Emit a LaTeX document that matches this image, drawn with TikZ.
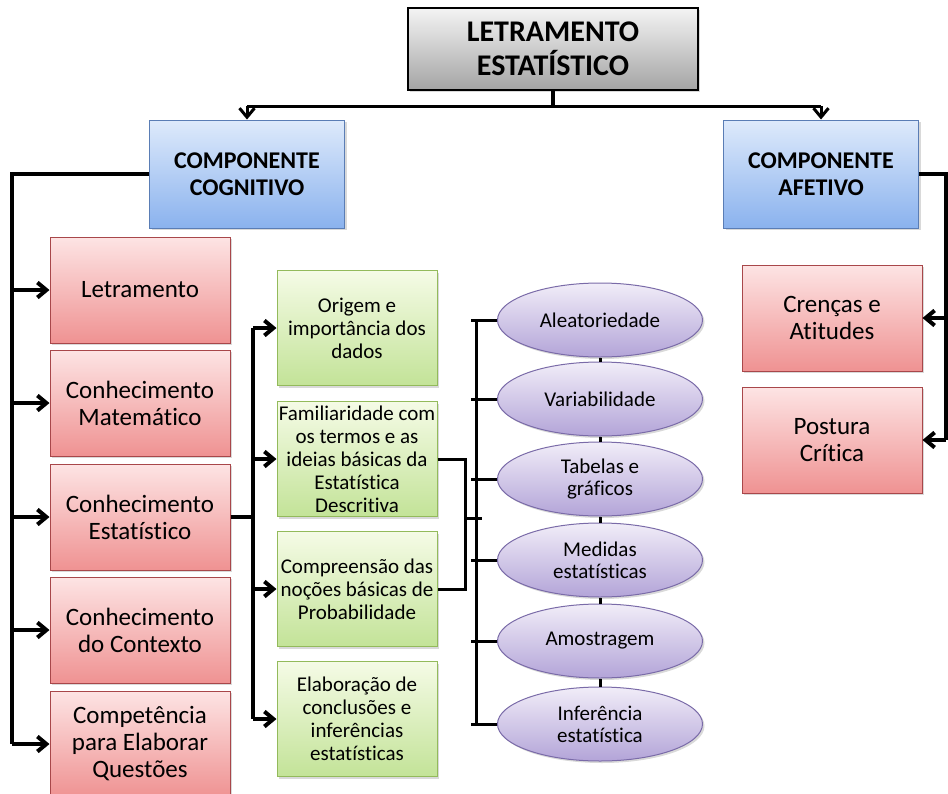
\documentclass[tikz,border=0pt]{standalone}
\usepackage{fontspec}
\setmainfont{Carlito}[Ligatures=CommonOff]
\usetikzlibrary{arrows.meta,shapes.geometric,shadows}

\definecolor{cinzatopo}{HTML}{F4F4F4}
\definecolor{cinzabase}{HTML}{A4A4A4}
\definecolor{azultopo}{HTML}{DEEAFB}
\definecolor{azulbase}{HTML}{8AB2EE}
\definecolor{azulborda}{HTML}{5A7DB5}
\definecolor{vermtopo}{HTML}{FDE4E4}
\definecolor{vermbase}{HTML}{EF9292}
\definecolor{vermborda}{HTML}{A8474A}
\definecolor{verdetopo}{HTML}{F5FBE6}
\definecolor{verdebase}{HTML}{C3E398}
\definecolor{verdeborda}{HTML}{93BA5B}
\definecolor{roxotopo}{HTML}{F1EDF8}
\definecolor{roxobase}{HTML}{B3A4D8}
\definecolor{roxoborda}{HTML}{7A6BA8}

\tikzset{
	caixa/.style={draw, rectangle, inner sep=1pt, align=center, drop shadow={shadow xshift=2pt, shadow yshift=-2pt, opacity=0.3}},
	titulo/.style={caixa, line width=1.6pt, draw=black, top color=cinzatopo, bottom color=cinzabase, minimum width=290pt, minimum height=82pt, font=\fontsize{30}{34}\selectfont\bfseries},
	componente/.style={caixa, line width=1pt, draw=azulborda, top color=azultopo, bottom color=azulbase, minimum width=195pt, minimum height=108pt, font=\fontsize{24}{27}\selectfont\bfseries},
	vermelha/.style={caixa, line width=1pt, draw=vermborda, top color=vermtopo, bottom color=vermbase, minimum width=180pt, minimum height=106pt, font=\fontsize{25}{27}\selectfont},
	verde/.style={caixa, line width=1pt, draw=verdeborda, top color=verdetopo, bottom color=verdebase, minimum width=160pt, minimum height=115pt, font=\fontsize{21}{23}\selectfont},
	elipse/.style={ellipse, draw=roxoborda, line width=1pt, top color=roxotopo, bottom color=roxobase, minimum width=205pt, minimum height=74pt, inner sep=0pt, align=center, font=\fontsize{21}{22}\selectfont, drop shadow={shadow xshift=2pt, shadow yshift=-2pt, opacity=0.3}},
	linha/.style={line width=4pt},
	fina/.style={line width=3pt},
	seta/.style={-{Straight Barb[length=9pt,width=15pt]}}
}

\begin{document}
\begin{tikzpicture}[x=1pt,y=-1pt]
	\useasboundingbox (0,0) rectangle (948,793);

	\node[titulo] (letest) at (553,49) {LETRAMENTO\\ESTATÍSTICO};
	\node[componente] (cognitivo) at (247,174) {COMPONENTE\\COGNITIVO};
	\node[componente] (afetivo) at (821,174) {COMPONENTE\\AFETIVO};

	\node[vermelha] (letramento) at (140,290) {Letramento};
	\node[vermelha] (matematico) at (140,403) {Conhecimento\\Matemático};
	\node[vermelha] (estatistico) at (140,517) {Conhecimento\\Estatístico};
	\node[vermelha] (contexto) at (140,630) {Conhecimento\\do Contexto};
	\node[vermelha] (competencia) at (140,744) {Competência\\para Elaborar\\Questões};

	\node[verde] (origem) at (357,328) {Origem e\\importância dos\\dados};
	\node[verde] (familiaridade) at (357,459) {Familiaridade com\\os termos e as\\ideias básicas da\\Estatística\\Descritiva};
	\node[verde] (compreensao) at (357,589) {Compreensão das\\noções básicas de\\Probabilidade};
	\node[verde] (elaboracao) at (357,719) {Elaboração de\\conclusões e\\inferências\\estatísticas};

	\node[elipse] (aleatoriedade) at (600,320) {Aleatoriedade};
	\node[elipse] (variabilidade) at (600,399) {Variabilidade};
	\node[elipse] (tabelas) at (600,479) {Tabelas e\\gráficos};
	\node[elipse] (medidas) at (600,560) {Medidas\\estatísticas};
	\node[elipse] (amostragem) at (600,641) {Amostragem};
	\node[elipse] (inferencia) at (600,724) {Inferência\\estatística};

	\node[vermelha] (crencas) at (832,318) {Crenças e\\Atitudes};
	\node[vermelha] (postura) at (832,440) {Postura\\Crítica};

	\coordinate (juncao) at (553,106);
	\draw[linha] (letest) -- (juncao);
	\draw[fina] (cognitivo.north |- juncao) -- (afetivo.north |- juncao);
	\draw[fina,seta] (cognitivo.north |- juncao) -- (cognitivo.north);
	\draw[fina,seta] (afetivo.north |- juncao) -- (afetivo.north);

	\coordinate (barraesq) at (12,174);
	\draw[linha] (cognitivo.west) -- (barraesq) -- (barraesq |- competencia);
	\draw[linha,seta] (barraesq |- letramento) -- (letramento.west);
	\draw[linha,seta] (barraesq |- matematico) -- (matematico.west);
	\draw[linha,seta] (barraesq |- estatistico) -- (estatistico.west);
	\draw[linha,seta] (barraesq |- contexto) -- (contexto.west);
	\draw[linha,seta] (barraesq |- competencia) -- (competencia.west);

	\coordinate (barraverde) at (253,517);
	\draw[linha] (estatistico.east) -- (barraverde);
	\draw[linha] (barraverde |- origem) -- (barraverde |- elaboracao);
	\draw[linha,seta] (barraverde |- origem) -- (origem.west);
	\draw[linha,seta] (barraverde |- familiaridade) -- (familiaridade.west);
	\draw[linha,seta] (barraverde |- compreensao) -- (compreensao.west);
	\draw[linha,seta] (barraverde |- elaboracao) -- (elaboracao.west);

	\coordinate (colchete) at (465,518);
	\coordinate (barraroxa) at (476,518);
	\draw[fina] (familiaridade.east) -| (colchete) |- (compreensao.east);
	\draw[fina] (colchete) -- ([xshift=17pt]colchete);
	\draw[fina] (barraroxa |- aleatoriedade) -- (barraroxa |- inferencia);
	\draw[fina,shorten <=-5pt] (barraroxa |- aleatoriedade) -- (aleatoriedade.west);
	\draw[fina,shorten <=-5pt] (barraroxa |- variabilidade) -- (variabilidade.west);
	\draw[fina,shorten <=-5pt] (barraroxa |- tabelas) -- (tabelas.west);
	\draw[fina,shorten <=-5pt] (barraroxa |- medidas) -- (medidas.west);
	\draw[fina,shorten <=-5pt] (barraroxa |- amostragem) -- (amostragem.west);
	\draw[fina,shorten <=-5pt] (barraroxa |- inferencia) -- (inferencia.west);

	\draw[fina] (aleatoriedade) -- (variabilidade);
	\draw[fina] (variabilidade) -- (tabelas);
	\draw[fina] (tabelas) -- (medidas);
	\draw[fina] (medidas) -- (amostragem);
	\draw[fina] (amostragem) -- (inferencia);

	\coordinate (barradir) at (946,174);
	\draw[linha] (afetivo.east) -- (barradir) -- (barradir |- postura);
	\draw[linha,seta] (barradir |- crencas) -- (crencas.east);
	\draw[linha,seta] (barradir |- postura) -- (postura.east);
\end{tikzpicture}
\end{document}
